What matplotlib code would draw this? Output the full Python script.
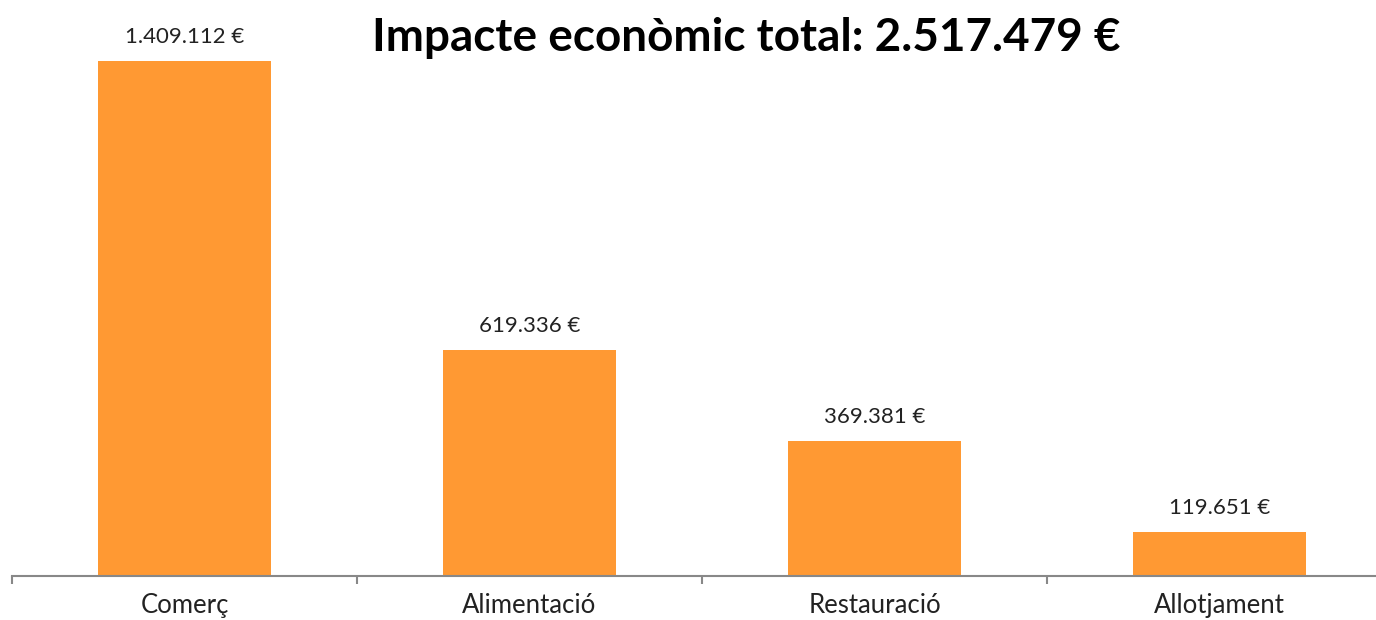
import matplotlib.pyplot as plt

categories = ['Comerç', 'Alimentació', 'Restauració', 'Allotjament']
values = [1409112, 619336, 369381, 119651]
labels = ['1.409.112 €', '619.336 €', '369.381 €', '119.651 €']
title = 'Impacte econòmic total: 2.517.479 €'

plt.rcParams['font.family'] = ['Lato', 'DejaVu Sans']


def main():
    fig = plt.figure(figsize=(13.76, 6.2), dpi=100)
    # axis spans x=12..1392 px (runs off the right edge), baseline at y=576
    ax = fig.add_axes([12 / 1376, 44 / 620, 1380 / 1376, 532 / 620])
    x = range(len(categories))
    ax.bar(x, values, width=0.5, color='#FF9933', zorder=2)
    ax.set_xlim(-0.5, len(categories) - 0.5)
    ax.set_ylim(0, values[0] * 532 / 515)

    for xi, v, lab in zip(x, values, labels):
        ax.annotate(lab, (xi, v), xytext=(0, 10), textcoords='offset points',
                    ha='center', va='bottom', fontsize=16, color='#222222')

    for s in ['top', 'right', 'left']:
        ax.spines[s].set_visible(False)
    ax.spines['bottom'].set_color('#888888')
    ax.spines['bottom'].set_linewidth(1.5)
    ax.set_yticks([])
    ax.set_xticks([i + 0.5 for i in range(-1, len(categories))], minor=False)
    ax.set_xticklabels([])
    ax.tick_params(axis='x', which='major', length=6, width=1.5, color='#888888',
                   direction='out')
    ax.set_xticks(list(x), minor=True)
    ax.set_xticklabels(categories, minor=True, fontsize=18.5, color='#222222')
    ax.tick_params(axis='x', which='minor', length=0, pad=12)

    fig.text(746 / 1376, 1 - 38 / 620, title, ha='center', va='center',
             fontsize=33, fontweight='bold', color='black')

    fig.savefig('out.png', dpi=100)


if __name__ == '__main__':
    main()
